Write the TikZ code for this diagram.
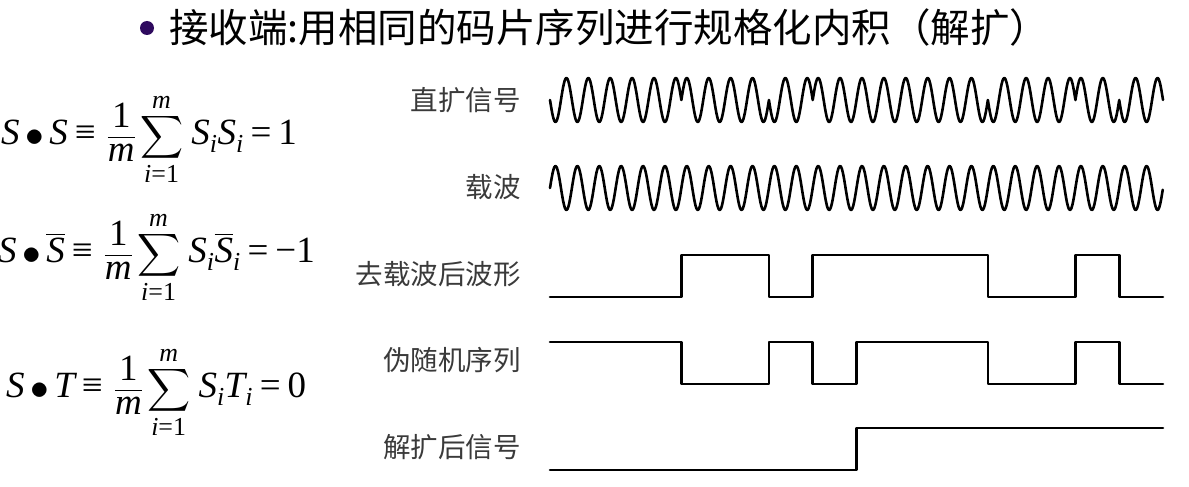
\documentclass[tikz,border=0pt]{standalone}
\usepackage{amsmath}
\usepackage{fontspec}
\newfontfamily\cjk{Noto Sans CJK SC}
\newfontfamily\tms{Liberation Serif}
\newcommand\tv[1]{\text{\tms\itshape #1}}
\newcommand\tu[1]{\text{\tms #1}}
\newcommand\bdot{\mathbin{\vcenter{\hbox{\scalebox{1.5}{$\bullet$}}}}}
\newcommand\teq{\mathrel{\text{\tms =}}}
\newcommand\tequiv{\mathrel{\text{\tms ≡}}}
\newcommand\tminus{\mathord{\text{\tms −}}}
\newcommand\bsum{\mathop{\vcenter{\hbox{\scalebox{1.2}{$\displaystyle\sum$}}}}\limits}
\definecolor{bulletpurple}{HTML}{2E0A5E}
\definecolor{labelgray}{HTML}{3A3A3A}
\tikzset{
  wave/.style={line width=2.6pt, line join=round, line cap=round, black},
  lbl/.style={anchor=east, inner sep=0pt, text=labelgray, font=\cjk\fontsize{27.5}{32}\selectfont},
  formula/.style={anchor=base west, inner sep=0pt, font=\fontsize{37}{44}\selectfont},
}
\begin{document}
\begin{tikzpicture}[x=1pt,y=-1pt]
\fill[white] (0,0) rectangle (1189,487);
\useasboundingbox (0,0) rectangle (1189,487);
% title
\fill[bulletpurple] (147,28) circle (7);
\node[anchor=west, inner sep=0pt, font=\cjk\fontsize{39.5}{46}\selectfont] (title) at (169,27) {接收端:用相同的码片序列进行规格化内积（解扩）};
% formulas
\node[formula] (f1) at (1,144) {$\displaystyle \tv{S}\bdot\tv{S}\tequiv\,\frac{\tu{1}}{\tv{m}}\bsum_{\tv{i}\tu{=1}}^{\tv{m}}\,\tv{S}_{\tv{i}}\tv{S}_{\tv{i}}\teq\tu{1}$};
\node[formula] (f2) at (-2,262) {$\displaystyle \tv{S}\bdot\overline{\tv{S}}\tequiv\,\frac{\tu{1}}{\tv{m}}\bsum_{\tv{i}\tu{=1}}^{\tv{m}}\,\tv{S}_{\tv{i}}\overline{\tv{S}}_{\tv{i}}\teq\tminus\tu{1}$};
\node[formula] (f3) at (6,397) {$\displaystyle \tv{S}\bdot\tv{T}\tequiv\,\frac{\tu{1}}{\tv{m}}\bsum_{\tv{i}\tu{=1}}^{\tv{m}}\,\tv{S}_{\tv{i}}\tv{T}_{\tv{i}}\teq\tu{0}$};
% labels
\node[lbl] (l1) at (521,100) {直扩信号};
\node[lbl] (l2) at (521,187) {载波};
\node[lbl] (l3) at (521,274) {去载波后波形};
\node[lbl] (l4) at (521,360) {伪随机序列};
\node[lbl] (l5) at (521,447) {解扩后信号};
\begin{scope}[shift={(550,0)}, x=43.786pt]
  % direct-sequence signal
  \draw[wave] (0,100) \foreach \s [count=\k from 0] in {-1,-1,-1,1,1,-1,1,1,1,1,-1,-1,1,-1} {
     -- plot[domain=\k:\k+1, samples=61] (\x,{100-\s*22*sin(720*\x)}) };
  % carrier
  \draw[wave] plot[domain=0:14, samples=700] (\x,{188-22*sin(720*\x)});
  % after carrier removal
  \draw[wave] (0,297) -- (3,297) -- (3,255) -- (5,255) -- (5,297) -- (6,297) -- (6,255) -- (10,255) -- (10,297) -- (12,297) -- (12,255) -- (13,255) -- (13,297) -- (14,297);
  % PN sequence
  \draw[wave] (0,342) -- (3,342) -- (3,384) -- (5,384) -- (5,342) -- (6,342) -- (6,384) -- (7,384) -- (7,342) -- (10,342) -- (10,384) -- (12,384) -- (12,342) -- (13,342) -- (13,384) -- (14,384);
  % despread output
  \draw[wave] (0,470) -- (7,470) -- (7,428) -- (14,428);
\end{scope}
\end{tikzpicture}
\end{document}
